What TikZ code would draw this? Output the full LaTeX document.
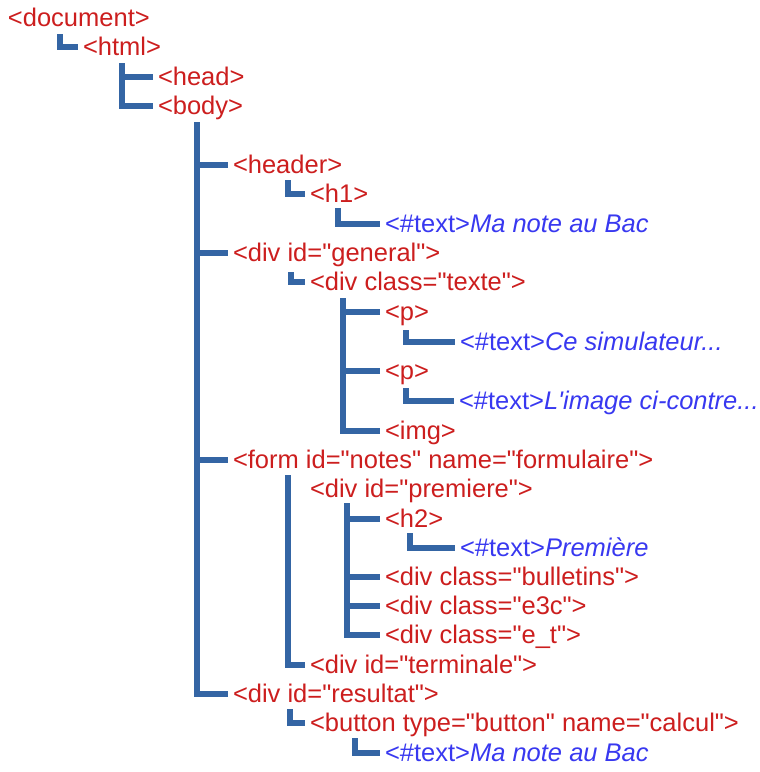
\documentclass[tikz,border=0pt]{standalone}
\usepackage{fontspec}
\newfontfamily\arialf{Liberation Sans}
\definecolor{tagred}{RGB}{204,30,30}
\definecolor{txtblue}{RGB}{56,56,240}
\definecolor{linkblue}{RGB}{52,101,164}
\tikzset{
  lbl/.style={anchor=base west, inner sep=0pt, outer sep=0pt, text=tagred,
    font=\arialf\fontsize{25.5}{30}\selectfont},
  conn/.style={draw=linkblue, line width=5.5pt, line cap=butt, line join=miter}
}
% \tn{name}{x}{center y}{text}
\newcommand{\tn}[4]{\node[lbl] (#1) at (#2,#3+8.5) {#4};}
\newcommand{\tx}[2]{\textcolor{txtblue}{<\#text>\itshape #2}}
\begin{document}
\begin{tikzpicture}[x=1pt,y=-1pt]
\useasboundingbox (0,0) rectangle (760,772);
\tn{doc}{8}{18}{<document>}
\tn{html}{83}{47}{<html>}
\tn{head}{158}{77}{<head>}
\tn{body}{158}{106}{<body>}
\tn{header}{233}{165}{<header>}
\tn{hone}{310}{194}{<h1>}
\tn{tone}{385}{224}{\tx{}{Ma note au Bac}}
\tn{general}{233}{253}{<div id="general">}
\tn{texte}{310}{282}{<div class="texte">}
\tn{pone}{385}{312}{<p>}
\tn{ttwo}{460}{342}{\tx{}{Ce simulateur...}}
\tn{ptwo}{385}{371}{<p>}
\tn{tthree}{459}{401}{\tx{}{L'image ci-contre...}}
\tn{img}{385}{431}{<img>}
\tn{form}{233}{460}{<form id="notes" name="formulaire">}
\tn{premiere}{310}{489}{<div id="premiere">}
\tn{htwo}{385}{519}{<h2>}
\tn{tfour}{460}{548}{\tx{}{Première}}
\tn{bulletins}{385}{577}{<div class="bulletins">}
\tn{ethreec}{385}{606}{<div class="e3c">}
\tn{et}{385}{635}{<div class="e\_t">}
\tn{terminale}{310}{665}{<div id="terminale">}
\tn{resultat}{233}{694}{<div id="resultat">}
\tn{button}{310}{723}{<button type="button" name="calcul">}
\tn{tfive}{385}{753}{\tx{}{Ma note au Bac}}
% vertical start points
\coordinate (vdoc) at (60,34);
\coordinate (vhtml) at (122,63);
\coordinate (vbody) at (197,122);
\coordinate (vheader) at (288,180);
\coordinate (vhone) at (338,208);
\coordinate (vgeneral) at (291,272);
\coordinate (vtexte) at (343,298);
\coordinate (vpone) at (406,330);
\coordinate (vptwo) at (406,388);
\coordinate (vform) at (288,475);
\coordinate (vpremiere) at (347,503);
\coordinate (vhtwo) at (410,533);
\coordinate (vresultat) at (290,709);
\coordinate (vbutton) at (355,738);
\newcommand{\br}[2]{\draw[conn] (#1) |- ([xshift=-5pt,yshift=8.5pt]#2.base west);}
\br{vdoc}{html}
\br{vhtml}{body}
\draw[conn] (vhtml |- head.base) ++(0,-8.5) -- ([xshift=-5pt,yshift=8.5pt]head.base west);
\br{vbody}{resultat}
\foreach \c in {header,general,form}{
  \draw[conn] ([yshift=8.5pt]\c.base west -| vbody) -- ([xshift=-5pt,yshift=8.5pt]\c.base west);
}
\br{vheader}{hone}
\br{vhone}{tone}
\br{vgeneral}{texte}
\br{vtexte}{img}
\foreach \c in {pone,ptwo}{
  \draw[conn] ([yshift=8.5pt]\c.base west -| vtexte) -- ([xshift=-5pt,yshift=8.5pt]\c.base west);
}
\br{vpone}{ttwo}
\br{vptwo}{tthree}
\br{vform}{terminale}
\br{vpremiere}{et}
\foreach \c in {htwo,bulletins,ethreec}{
  \draw[conn] ([yshift=8.5pt]\c.base west -| vpremiere) -- ([xshift=-5pt,yshift=8.5pt]\c.base west);
}
\br{vhtwo}{tfour}
\br{vresultat}{button}
\br{vbutton}{tfive}
\end{tikzpicture}
\end{document}
